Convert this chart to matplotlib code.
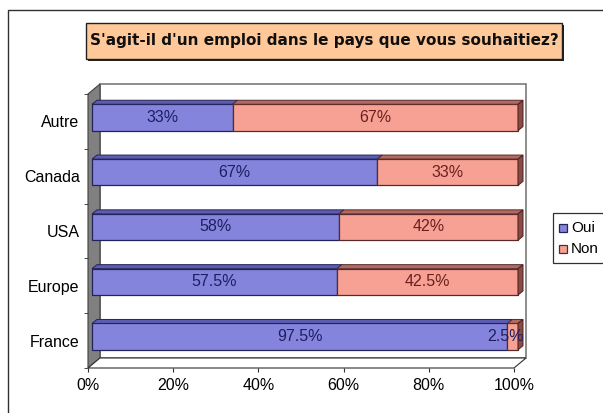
import numpy as np
import matplotlib.pyplot as plt
from matplotlib.patches import Polygon, Rectangle

# data
pays = ['France', 'Europe', 'USA', 'Canada', 'Autre']
oui = [97.5, 57.5, 58, 67, 33]
non = [2.5, 42.5, 42, 33, 67]
oui_labels = ['97.5%', '57.5%', '58%', '67%', '33%']
non_labels = ['2.5%', '42.5%', '42%', '33%', '67%']
xticks = [0, 20, 40, 60, 80, 100]

plt.rcParams['font.family'] = ['Liberation Sans', 'DejaVu Sans']

W, H = 603, 413
fig = plt.figure(figsize=(W / 100, H / 100), dpi=100)

# front plane of the plot area, in pixels
x0, x1 = 88, 514
y_top, y_bot = 94, 368
ax = fig.add_axes([x0 / W, 1 - y_bot / H, (x1 - x0) / W, (y_bot - y_top) / H])
ax.set_xlim(0, 100)
ax.set_ylim(-0.5, 4.5)
for s in ax.spines.values():
    s.set_visible(False)

px_x = 100 / (x1 - x0)                # data units per pixel (x)
px_y = 5 / (y_bot - y_top)            # data units per pixel (y)
DX, DY = 12 * px_x, 10 * px_y         # depth of the walls

# back wall, left wall, floor
ax.add_patch(Polygon([(DX, -0.5 + DY), (100 + DX, -0.5 + DY), (100 + DX, 4.5 + DY), (DX, 4.5 + DY)],
                     closed=True, facecolor='white', edgecolor='#7a7a7a', lw=1.2, zorder=0, clip_on=False))
ax.add_patch(Polygon([(0, -0.5), (DX, -0.5 + DY), (DX, 4.5 + DY), (0, 4.5)],
                     closed=True, facecolor='#808080', edgecolor='#404040', lw=0.8, zorder=1, clip_on=False))
ax.add_patch(Polygon([(0, -0.5), (100, -0.5), (100 + DX, -0.5 + DY), (DX, -0.5 + DY)],
                     closed=True, facecolor='white', edgecolor='#303030', lw=0.8, zorder=1, clip_on=False))

# bars with a bit of depth
y = np.arange(len(pays))
bx = 4 * px_x
by = 4 * px_y
bh = 0.48
dx, dy = 5 * px_x, 4 * px_y
left_non = np.array(oui) + bx
b1 = ax.barh(y + by, oui, left=bx, height=bh, color='#8484dc', edgecolor='#23235a', lw=0.9, zorder=3)
b2 = ax.barh(y + by, non, left=left_non, height=bh, color='#f7a195', edgecolor='#5a2a2a', lw=0.9, zorder=3)
for p in list(b1) + list(b2):
    p.set_clip_on(False)
for i in range(len(pays)):
    top = y[i] + by + bh / 2
    a, b, c = bx, bx + oui[i], bx + oui[i] + non[i]
    ax.add_patch(Polygon([(a, top), (b, top), (b + dx, top + dy), (a + dx, top + dy)],
                         facecolor='#5c5cb0', edgecolor='#23235a', lw=0.7, zorder=3, clip_on=False))
    ax.add_patch(Polygon([(b, top), (c, top), (c + dx, top + dy), (b + dx, top + dy)],
                         facecolor='#b06a62', edgecolor='#5a2a2a', lw=0.7, zorder=3, clip_on=False))
    ax.add_patch(Polygon([(c, top), (c + dx, top + dy), (c + dx, top + dy - bh), (c, top - bh)],
                         facecolor='#8a4a46', edgecolor='#4a2020', lw=0.7, zorder=3, clip_on=False))
    ax.text(bx + oui[i] / 2, y[i] + by, oui_labels[i], ha='center', va='center',
            fontsize=11.5, color='#1e1e64', zorder=5)
    nx = bx + oui[i] + non[i] / 2
    if non[i] < 5:
        nx = 98.1
    ax.text(nx, y[i] + by, non_labels[i], ha='center', va='center',
            fontsize=11.5, color='#6a2020' if non[i] >= 5 else '#1e1e64', zorder=5)

ax.set_yticks(y)
ax.set_yticklabels(pays, fontsize=11.5)
ax.set_yticks(np.arange(-0.5, 5, 1), minor=True)
ax.tick_params(axis='y', which='major', length=0, pad=6)
ax.tick_params(axis='y', which='minor', length=3, color='#303030')
ax.set_xticks(xticks)
ax.set_xticklabels([f'{t}%' for t in xticks], fontsize=11.5)
ax.tick_params(axis='x', length=3, color='#303030', pad=4)

# title box with shadow
fig.patches.append(Rectangle((88 / W, 1 - 61 / H), 476 / W, 36 / H, transform=fig.transFigure,
                             facecolor='#202020', edgecolor='none', zorder=1))
fig.patches.append(Rectangle((86 / W, 1 - 59 / H), 476 / W, 36 / H, transform=fig.transFigure,
                             facecolor='#ffc898', edgecolor='#202020', lw=1.0, zorder=2))
fig.text(324 / W, 1 - 41 / H, "S'agit-il d'un emploi dans le pays que vous souhaitiez?",
         ha='center', va='center', fontsize=11, fontweight='bold', color='#101010',
         family='DejaVu Sans', zorder=3)

# outer chart border
fig.patches.append(Rectangle((8 / W, -0.1), 1.2, 1 - 10 / H + 0.1, transform=fig.transFigure,
                             facecolor='none', edgecolor='#303030', lw=1.0, zorder=0))

# legend
fig.patches.append(Rectangle((553 / W, 1 - 263 / H), 0.2, 50 / H, transform=fig.transFigure,
                             facecolor='white', edgecolor='#303030', lw=0.9, zorder=1))
for lab, col, ec, yy in [('Oui', '#8484dc', '#23235a', 228), ('Non', '#f7a195', '#5a2a2a', 249)]:
    fig.patches.append(Rectangle((559 / W, 1 - (yy + 4) / H), 8 / W, 8 / H, transform=fig.transFigure,
                                 facecolor=col, edgecolor=ec, lw=0.9, zorder=2))
    fig.text(571 / W, 1 - yy / H, lab, ha='left', va='center', fontsize=11, zorder=3)

fig.savefig('out.png', dpi=100)
